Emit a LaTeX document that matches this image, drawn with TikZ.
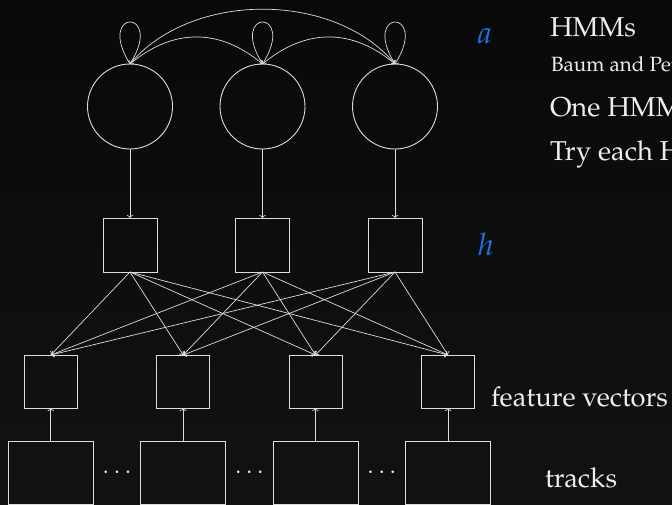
\documentclass[tikz,border=0pt]{standalone}
\usepackage{fontspec}
\setmainfont{texgyrepagella}[Extension=.otf,UprightFont=*-regular,ItalicFont=*-italic,BoldFont=*-bold,BoldItalicFont=*-bolditalic]
\usetikzlibrary{arrows.meta,calc}
\definecolor{bgtop}{HTML}{090909}
\definecolor{bgbot}{HTML}{121212}
\definecolor{ln}{HTML}{DDDDDD}
\definecolor{txtc}{HTML}{EEEEEE}
\definecolor{accent}{RGB}{25,115,230}
\begin{document}
\begin{tikzpicture}[x=1pt,y=-1pt,
  every node/.style={inner sep=0pt,outer sep=0pt},
  state/.style={circle,draw=ln,line width=0.9pt,minimum size=85pt},
  hbox/.style={draw=ln,line width=0.9pt,minimum size=54pt},
  fbox/.style={draw=ln,line width=0.9pt,minimum size=53pt},
  tbox/.style={draw=ln,line width=0.9pt,minimum width=85pt,minimum height=63pt},
  conn/.style={draw=ln,line width=0.7pt,-{To[length=3pt,width=6.5pt]}},
  txt/.style={text=txtc,anchor=base west,font=\fontsize{27.3}{27.3}\selectfont},
  txtsmall/.style={text=txtc,anchor=base west,font=\fontsize{20.6}{20.6}\selectfont},
  ital/.style={text=accent,anchor=base west,font=\fontsize{31}{31}\selectfont\itshape},
  dots/.style={text=txtc,font=\fontsize{30}{30}\selectfont}
]
\useasboundingbox (0,0) rectangle (672,504);
\fill[top color=bgtop,bottom color=bgbot] (0,0) rectangle (672,504);

% states
\node[state] (c1) at (130,106.5) {};
\node[state] (c2) at (262.5,106.5) {};
\node[state] (c3) at (395,106.5) {};

% hidden boxes
\node[hbox] (h1) at (130,245) {};
\node[hbox] (h2) at (262.5,245) {};
\node[hbox] (h3) at (395,245) {};

% feature boxes
\node[fbox] (f1) at (50.8,381.5) {};
\node[fbox] (f2) at (183.2,381.5) {};
\node[fbox] (f3) at (315.5,381.5) {};
\node[fbox] (f4) at (448,381.5) {};

% tracks
\node[tbox] (t1) at (50.8,472.5) {};
\node[tbox] (t2) at (183.2,472.5) {};
\node[tbox] (t3) at (315.5,472.5) {};
\node[tbox] (t4) at (448,472.5) {};

% dots
\node[dots] (d1) at ($(t1.east)!0.5!(t2.west)$) {$\cdots$};
\node[dots] (d2) at ($(t2.east)!0.5!(t3.west)$) {$\cdots$};
\node[dots] (d3) at ($(t3.east)!0.5!(t4.west)$) {$\cdots$};

% self loops
\foreach \c in {c1,c2,c3}
  \draw[conn] (\c.north) .. controls +(-35,-56) and +(35,-56) .. (\c.north);

% transitions
\draw[conn] (c1.north) .. controls +(43,-36) and +(-43,-36) .. (c2.north);
\draw[conn] (c2.north) .. controls +(43,-36) and +(-43,-36) .. (c3.north);
\draw[conn] (c1.north) .. controls +(61,-73) and +(-61,-73) .. (c3.north);

% emissions
\draw[conn] (c1) -- (h1);
\draw[conn] (c2) -- (h2);
\draw[conn] (c3) -- (h3);

\foreach \h in {h1,h2,h3}
  \foreach \f in {f1,f2,f3,f4}
    \draw[conn] (\h.south) -- (\f.north);

\foreach \i in {1,2,3,4}
  \draw[conn] (t\i) -- (f\i);

% texts
\node[ital] (la) at (478,43) {a};
\node[ital] (lh) at (478,255) {h};
\node[txt] (s1) at (550,36) {HMMs};
\node[txtsmall] (s2) at (551,71.7) {Baum and Pet};
\node[txt] (s3) at (550,116) {One HMM};
\node[txt] (s4) at (550,160) {Try each H};
\node[txt] (fv) at (491,406.5) {feature vectors};
\node[txt] (tr) at (545,487.7) {tracks};
\end{tikzpicture}
\end{document}
